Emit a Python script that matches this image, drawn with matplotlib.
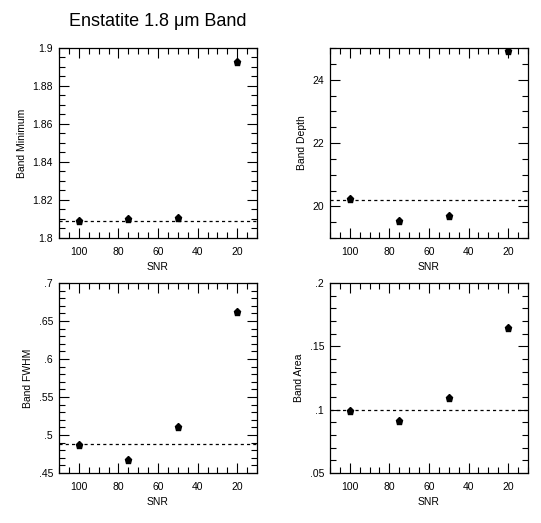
import matplotlib
matplotlib.use("Agg")
import matplotlib.pyplot as plt
from matplotlib.ticker import MultipleLocator, FuncFormatter

plt.rcParams['font.family'] = ['Liberation Sans', 'DejaVu Sans']

snr = [100, 75, 50, 20]
band_min = [1.809, 1.8102, 1.8104, 1.8925]
band_depth = [20.23, 19.53, 19.71, 24.9]
band_fwhm = [0.487, 0.4675, 0.511, 0.662]
band_area = [0.0993, 0.0912, 0.1094, 0.1642]

ref_min = 1.809
ref_depth = 20.2
ref_fwhm = 0.4885
ref_area = 0.0997

title = "Enstatite 1.8 \u03bcm Band"
xlabel = "SNR"

panels = [
    dict(y=band_min, ref=ref_min, ylabel="Band Minimum", ylim=(1.8, 1.9), major=0.02, minor=0.005),
    dict(y=band_depth, ref=ref_depth, ylabel="Band Depth", ylim=(19, 25), major=2, minor=0.5),
    dict(y=band_fwhm, ref=ref_fwhm, ylabel="Band FWHM", ylim=(0.45, 0.7), major=0.05, minor=0.01),
    dict(y=band_area, ref=ref_area, ylabel="Band Area", ylim=(0.05, 0.2), major=0.05, minor=0.01),
]

W, H = 541, 523
fig = plt.figure(figsize=(W / 100, H / 100), dpi=100)

boxes = [(59, 48), (330, 48), (59, 283), (330, 283)]
aw, ah = 198, 190


def fmt(v, pos):
    s = f"{round(v, 6):g}"
    if s.startswith("0."):
        s = s[1:]
    return s


for p, (lx, ty) in zip(panels, boxes):
    ax = fig.add_axes([lx / W, (H - ty - ah) / H, aw / W, ah / H])
    ax.plot(snr, p["y"], linestyle="none", marker="p", markersize=5.2, color="black")
    ax.axhline(p["ref"], color="black", linestyle=(0, (2.5, 2.5)), linewidth=0.9)
    ax.set_xlim(110, 10)
    ax.set_ylim(*p["ylim"])
    ax.xaxis.set_major_locator(MultipleLocator(20))
    ax.xaxis.set_minor_locator(MultipleLocator(5))
    ax.yaxis.set_major_locator(MultipleLocator(p["major"]))
    ax.yaxis.set_minor_locator(MultipleLocator(p["minor"]))
    ax.yaxis.set_major_formatter(FuncFormatter(fmt))
    ax.tick_params(which="both", direction="in", top=True, right=True, width=0.8, labelsize=7.5)
    ax.tick_params(which="major", length=7.5)
    ax.tick_params(which="minor", length=4.3)
    ax.tick_params(axis="y", which="major", pad=4.3)
    ax.tick_params(axis="x", which="major", pad=6.5)
    for s in ax.spines.values():
        s.set_linewidth(0.9)
    ax.set_xlabel(xlabel, fontsize=7.5, labelpad=3.5)
    ax.set_ylabel(p["ylabel"], fontsize=7.5, labelpad=4)

fig.text(158 / W, 1 - 22 / H, title, ha="center", va="center", fontsize=13)

fig.savefig("out.png", dpi=100)
